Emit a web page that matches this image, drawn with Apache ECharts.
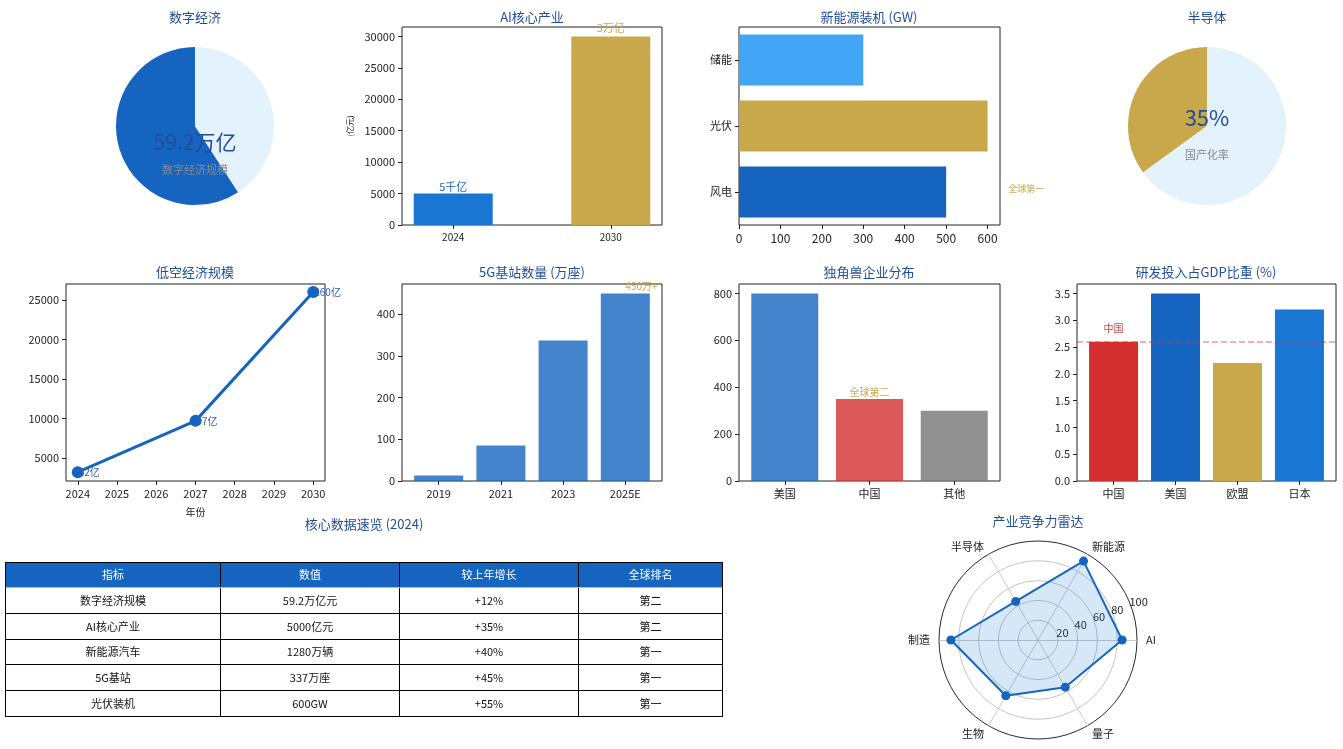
<!DOCTYPE html>
<html>
<head>
<meta charset="utf-8">
<script src="https://cdn.jsdelivr.net/npm/echarts@6/dist/echarts.min.js"></script>
<style>
  html, body { margin: 0; padding: 0; background: #fff; }
  #main { width: 1343px; height: 749px; }
</style>
</head>
<body>
<div id="main"></div>
<script>
// ---------- data ----------
const digitalShare = [59.2, 40.8];             // 数字经济规模 (万亿) vs remainder
const semiShare = [35, 65];                    // 半导体国产化率 %

const aiYears = ['2024', '2030'];
const aiValues = [5000, 30000];                // 亿元
const aiLabels = ['5千亿', '3万亿'];
const aiTicks = [0, 5000, 10000, 15000, 20000, 25000, 30000];

const energyCats = ['风电', '光伏', '储能'];
const energyValues = [500, 600, 300];          // GW
const energyTicks = [0, 100, 200, 300, 400, 500, 600];

const lowAltYears = [2024, 2027, 2030];
const lowAltValues = [3200, 9700, 26000];
const lowAltTicksX = [2024, 2025, 2026, 2027, 2028, 2029, 2030];
const lowAltTicksY = [5000, 10000, 15000, 20000, 25000];

const fiveGYears = ['2019', '2021', '2023', '2025E'];
const fiveGValues = [13, 85, 337, 450];        // 万座
const fiveGTicks = [0, 100, 200, 300, 400];

const unicornCats = ['美国', '中国', '其他'];
const unicornValues = [800, 350, 300];
const unicornTicks = [0, 200, 400, 600, 800];

const rdCats = ['中国', '美国', '欧盟', '日本'];
const rdValues = [2.6, 3.5, 2.2, 3.2];         // % of GDP
const rdTicks = [0, 0.5, 1.0, 1.5, 2.0, 2.5, 3.0, 3.5];

const tableHeader = ['指标', '数值', '较上年增长', '全球排名'];
const tableRows = [
  ['数字经济规模', '59.2万亿元', '+12%', '第二'],
  ['AI核心产业', '5000亿元', '+35%', '第二'],
  ['新能源汽车', '1280万辆', '+40%', '第一'],
  ['5G基站', '337万座', '+45%', '第一'],
  ['光伏装机', '600GW', '+55%', '第一']
];

const radarAxes = ['AI', '新能源', '半导体', '制造', '生物', '量子'];
const radarValues = [85, 92, 45, 88, 65, 55];
const radarTicks = [20, 40, 60, 80, 100];

// ---------- styling ----------
const FONT = 'Noto Sans CJK SC';
const TITLE = '#1F4E9A';
const INK = '#222';
const C = {
  navy: '#1565C0', blue: '#1976D2', sky: '#42A5F5', gold: '#C9A84C', pale: '#E3F2FD',
  red: '#D32F2F', blueA: 'rgba(21,101,192,0.8)', redA: 'rgba(211,47,47,0.8)', grayA: 'rgba(117,117,117,0.8)'
};

function gridBox(left, top, width, height) {
  return { left, top, width, height, show: true, borderColor: INK, borderWidth: 1,
           backgroundColor: 'transparent', containLabel: false, outerBoundsMode: 'none' };
}

// value axis whose ticks sit on integer category positions
function catAxis(gridIndex, cats, min, max, fontSize) {
  const idx = cats.map((_, i) => i);
  return {
    type: 'value', gridIndex, min, max,
    axisLine: { show: false, onZero: false }, splitLine: { show: false },
    axisTick: { show: true, customValues: idx, length: 4, lineStyle: { color: INK } },
    axisLabel: { customValues: idx, formatter: v => cats[Math.round(v)], fontSize, color: INK, margin: 7 }
  };
}

function numAxis(gridIndex, ticks, min, max, fontSize, fmt) {
  return {
    type: 'value', gridIndex, min, max,
    axisLine: { show: false, onZero: false }, splitLine: { show: false },
    axisTick: { show: true, customValues: ticks, length: 4, lineStyle: { color: INK } },
    axisLabel: { customValues: ticks, fontSize, color: INK, margin: 7,
                 formatter: fmt || (v => String(v)) }
  };
}

function textEl(text, x, y, size, color) {
  return { type: 'text', x, y, z: 100, zlevel: 0, silent: true,
           style: { text, fill: color, fontSize: size, fontFamily: FONT,
                    textAlign: 'center', textVerticalAlign: 'middle', align: 'center', verticalAlign: 'middle' } };
}
const title = (text, x, y) => textEl(text, x, y, 13, TITLE);

const chart = echarts.init(document.getElementById('main'), null, { renderer: 'canvas' });

const tableCells = [];
tableRows.forEach((row, r) => row.forEach((val, c) => tableCells.push({ coord: [c, r], value: val })));
const colSizes = [215, 179, 179, 144];

const option = {
  backgroundColor: '#fff',
  animation: false,
  textStyle: { fontFamily: FONT },
  grid: [
    gridBox(402, 27, 260, 198),   // 0 AI核心产业
    gridBox(739, 27, 261, 198),   // 1 新能源装机
    gridBox(66, 284, 259, 197),   // 2 低空经济
    gridBox(402, 284, 260, 197),  // 3 5G
    gridBox(739, 284, 261, 197),  // 4 独角兽
    gridBox(1077, 284, 259, 197)  // 5 研发投入
  ],
  xAxis: [
    catAxis(0, aiYears, -0.325, 1.325, 10),
    numAxis(1, energyTicks, 0, 630, 12),
    Object.assign(numAxis(2, lowAltTicksX, 2023.7, 2030.3, 11),
      { name: '年份', nameLocation: 'middle', nameGap: 26, nameTextStyle: { fontSize: 10, color: INK } }),
    catAxis(3, fiveGYears, -0.59, 3.59, 11),
    catAxis(4, unicornCats, -0.54, 2.54, 11),
    catAxis(5, rdCats, -0.59, 3.59, 11)
  ],
  yAxis: [
    Object.assign(numAxis(0, aiTicks, 0, 31500, 11),
      { name: '(亿元)', nameLocation: 'middle', nameGap: 48, nameRotate: 90,
        nameTextStyle: { fontSize: 8, color: INK } }),
    {
      type: 'category', gridIndex: 1, data: energyCats,
      axisLine: { show: false, onZero: false }, splitLine: { show: false },
      axisTick: { show: true, alignWithLabel: true, length: 4, lineStyle: { color: INK } },
      axisLabel: { fontSize: 11, color: INK, margin: 7 }
    },
    numAxis(2, lowAltTicksY, 2089, 27025, 11),
    numAxis(3, fiveGTicks, 0, 472.5, 11),
    numAxis(4, unicornTicks, 0, 840, 11),
    numAxis(5, rdTicks, 0, 3.675, 11, v => v.toFixed(1))
  ],
  // polar frame that only carries the radial tick labels of the radar
  polar: [{ center: [1038, 640], radius: 99 }],
  angleAxis: [{ polarIndex: 0, type: 'value', min: 0, max: 360, startAngle: 22.5, show: false }],
  radiusAxis: [{
    polarIndex: 0, type: 'value', min: 0, max: 100,
    axisLine: { show: false }, axisTick: { show: false }, splitLine: { show: false },
    axisLabel: { customValues: radarTicks, fontSize: 11, color: INK, margin: 0, align: 'left' }
  }],
  radar: {
    center: [1038, 640], radius: 99, startAngle: 0, shape: 'circle', splitNumber: 5,
    indicator: radarAxes.map(n => ({ name: n, min: 0, max: 100 })),
    axisName: { color: INK, fontSize: 11 },
    nameGap: 9,
    axisLine: { lineStyle: { color: '#bdbdbd', width: 0.8 } },
    splitLine: { lineStyle: { color: ['#bdbdbd', '#bdbdbd', '#bdbdbd', '#bdbdbd', '#bdbdbd', '#111'], width: 0.9 } },
    splitArea: { show: false },
    axisLabel: { show: false }
  },
  matrix: {
    left: 5, top: 562, width: 717, height: 154,
    x: {
      data: tableHeader.map((t, i) => ({ value: t, size: colSizes[i] })),
      itemStyle: { color: C.navy, borderColor: '#000', borderWidth: 1 },
      label: { color: '#fff', fontSize: 11 }
    },
    y: { show: false, data: tableRows.map((_, i) => 'r' + i) },
    body: {
      data: tableCells,
      itemStyle: { color: '#fff', borderColor: '#000', borderWidth: 1 },
      label: { color: '#111', fontSize: 11 }
    },
    backgroundStyle: { color: '#fff', borderColor: '#000', borderWidth: 1 }
  },
  series: [
    // 数字经济 pie
    {
      type: 'pie', center: [195, 126], radius: 79, startAngle: 90, clockwise: false, z: 1,
      label: { show: false }, labelLine: { show: false }, silent: true,
      data: [
        { value: digitalShare[0], itemStyle: { color: C.navy } },
        { value: digitalShare[1], itemStyle: { color: C.pale } }
      ]
    },
    // 半导体 pie
    {
      type: 'pie', center: [1207, 126], radius: 79, startAngle: 90, clockwise: false, z: 1,
      label: { show: false }, labelLine: { show: false }, silent: true,
      data: [
        { value: semiShare[0], itemStyle: { color: C.gold } },
        { value: semiShare[1], itemStyle: { color: C.pale } }
      ]
    },
    // AI核心产业
    {
      type: 'bar', xAxisIndex: 0, yAxisIndex: 0, barWidth: 79,
      data: aiValues.map((v, i) => ({
        value: [i, v],
        itemStyle: { color: i === 0 ? C.blue : C.gold },
        label: { show: true, position: 'top', distance: i === 0 ? 1 : 3,
                 formatter: aiLabels[i], fontSize: 11, color: i === 0 ? C.navy : C.gold }
      }))
    },
    // 新能源装机
    {
      type: 'bar', xAxisIndex: 1, yAxisIndex: 1, barWidth: 51,
      data: energyValues.map((v, i) => ({
        value: v,
        itemStyle: { color: [C.navy, C.gold, C.sky][i] },
        label: i === 0 ? { show: true, position: 'right', distance: 62, offset: [0, -3],
                           formatter: '全球第一', fontSize: 9, color: C.gold } : { show: false }
      }))
    },
    // 低空经济规模
    {
      type: 'line', xAxisIndex: 2, yAxisIndex: 2,
      data: lowAltYears.map((y, i) => [y, lowAltValues[i]]),
      symbol: 'circle', symbolSize: 12,
      lineStyle: { color: C.navy, width: 3 },
      itemStyle: { color: C.navy },
      label: { show: true, position: 'right', distance: -5, fontSize: 10, color: '#2E62B0',
               formatter: p => (p.value[1] / 100) + '亿' }
    },
    // 5G基站
    {
      type: 'bar', xAxisIndex: 3, yAxisIndex: 3, barWidth: 49,
      data: fiveGValues.map((v, i) => ({
        value: [i, v],
        itemStyle: { color: C.blueA },
        label: i === fiveGValues.length - 1
          ? { show: true, position: ['50%', -7], align: 'left', verticalAlign: 'middle',
              formatter: v + '万+', fontSize: 10, color: C.gold }
          : { show: false }
      }))
    },
    // 独角兽
    {
      type: 'bar', xAxisIndex: 4, yAxisIndex: 4, barWidth: 67,
      data: unicornValues.map((v, i) => ({
        value: [i, v],
        itemStyle: { color: [C.blueA, C.redA, C.grayA][i] },
        label: i === 1 ? { show: true, position: 'top', distance: 2, formatter: '全球第二',
                           fontSize: 10, color: C.gold } : { show: false }
      }))
    },
    // 研发投入
    {
      type: 'bar', xAxisIndex: 5, yAxisIndex: 5, barWidth: 49,
      data: rdValues.map((v, i) => ({
        value: [i, v],
        itemStyle: { color: [C.red, C.navy, C.gold, C.blue][i] },
        label: i === 0 ? { show: true, position: 'top', distance: 8, formatter: rdCats[0],
                           fontSize: 10, color: '#D04848' } : { show: false }
      })),
      markLine: {
        silent: true, symbol: 'none', label: { show: false },
        lineStyle: { color: 'rgba(211,47,47,0.5)', type: [6, 3], width: 1.5 },
        data: [{ yAxis: rdValues[0] }]
      }
    },
    // 产业竞争力雷达
    {
      type: 'radar', radarIndex: 0, symbol: 'circle', symbolSize: 9,
      lineStyle: { color: C.navy, width: 2 },
      itemStyle: { color: C.navy },
      areaStyle: { color: 'rgba(25,118,210,0.25)' },
      data: [{ value: radarValues }]
    }
  ],
  graphic: {
    elements: [
      title('数字经济', 195, 17),
      title('AI核心产业', 532, 17),
      title('新能源装机 (GW)', 869, 17),
      title('半导体', 1207, 17),
      title('低空经济规模', 195, 272),
      title('5G基站数量 (万座)', 532, 272),
      title('独角兽企业分布', 869, 272),
      title('研发投入占GDP比重 (%)', 1206, 272),
      title('核心数据速览 (2024)', 364, 524),
      title('产业竞争力雷达', 1038, 521),
      textEl(digitalShare[0] + '万亿', 195, 142, 21, TITLE),
      textEl('数字经济规模', 195, 170, 11, '#8a8a8a'),
      textEl(semiShare[0] + '%', 1207, 118, 22, TITLE),
      textEl('国产化率', 1207, 155, 11, '#8a8a8a')
    ]
  }
};

chart.setOption(option);
</script>
</body>
</html>
